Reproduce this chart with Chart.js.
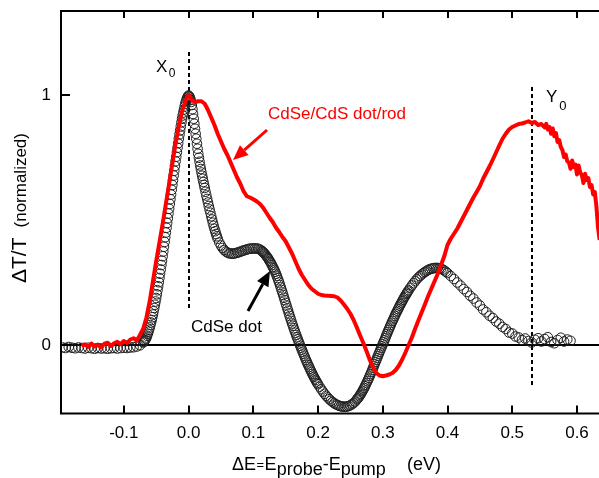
<!DOCTYPE html>
<html><head><meta charset="utf-8">
<script src="https://cdn.jsdelivr.net/npm/chart.js@4/dist/chart.umd.min.js"></script>
<style>html,body{margin:0;padding:0;background:#fff}#wrap{width:599px;height:478px}</style>
</head><body><div id="wrap"><canvas id="c" width="599" height="478"></canvas></div>
<script>
// ---- data (energy offset in eV, normalized ΔT/T) ----
const xTickValues = [-0.1, 0.0, 0.1, 0.2, 0.3, 0.4, 0.5, 0.6];
const yTickValues = [0, 1];
const seriesNames = ['CdSe/CdS dot/rod', 'CdSe dot'];

// CdSe dot (open circles): [ΔE, ΔT/T]
const cdseDot = [
[-0.195,-0.010],[-0.19,-0.012],[-0.185,-0.008],[-0.18,-0.011],[-0.175,-0.013],[-0.17,-0.010],[-0.165,-0.012],
[-0.16,-0.014],[-0.155,-0.011],[-0.15,-0.013],[-0.145,-0.015],[-0.14,-0.012],[-0.135,-0.014],[-0.13,-0.013],
[-0.125,-0.015],[-0.12,-0.013],[-0.115,-0.012],[-0.11,-0.014],[-0.105,-0.012],[-0.1,-0.011],[-0.095,-0.012],
[-0.09,-0.010],[-0.085,-0.009],[-0.08,-0.006],[-0.075,-0.001],[-0.07,0.010],
[-0.069,0.013],[-0.068,0.016],[-0.067,0.020],[-0.066,0.025],[-0.065,0.030],[-0.064,0.037],[-0.063,0.045],
[-0.062,0.053],[-0.061,0.061],[-0.060,0.070],[-0.059,0.080],[-0.058,0.090],[-0.057,0.100],[-0.056,0.111],
[-0.055,0.122],[-0.054,0.135],[-0.053,0.148],[-0.052,0.161],[-0.051,0.174],[-0.050,0.188],[-0.049,0.203],
[-0.048,0.219],[-0.047,0.235],[-0.046,0.251],[-0.045,0.268],[-0.044,0.285],[-0.043,0.302],[-0.042,0.320],
[-0.041,0.337],[-0.040,0.355],[-0.039,0.374],[-0.038,0.393],[-0.037,0.412],[-0.036,0.431],[-0.035,0.450],
[-0.034,0.469],[-0.033,0.488],[-0.032,0.507],[-0.031,0.526],[-0.030,0.545],[-0.029,0.564],[-0.028,0.583],
[-0.027,0.602],[-0.026,0.621],[-0.025,0.640],[-0.024,0.659],[-0.023,0.678],[-0.022,0.697],[-0.021,0.716],
[-0.020,0.735],[-0.019,0.753],[-0.018,0.771],[-0.017,0.789],[-0.016,0.807],[-0.015,0.825],[-0.014,0.842],
[-0.013,0.858],[-0.012,0.874],[-0.011,0.890],[-0.010,0.905],[-0.009,0.918],[-0.008,0.930],[-0.007,0.942],
[-0.006,0.954],[-0.005,0.965],[-0.004,0.974],[-0.003,0.982],[-0.002,0.989],[-0.001,0.994],[0.000,0.998],
[0.001,0.995],[0.002,0.990],[0.003,0.982],[0.004,0.972],[0.005,0.960],[0.006,0.943],[0.007,0.924],
[0.008,0.905],[0.009,0.885],[0.010,0.865],[0.011,0.845],[0.012,0.825],[0.013,0.805],[0.014,0.785],
[0.015,0.765],[0.016,0.749],[0.017,0.733],[0.018,0.718],[0.019,0.704],[0.020,0.690],[0.021,0.677],
[0.022,0.665],[0.023,0.652],[0.024,0.640],[0.025,0.628],
[0.02625,0.613],[0.0275,0.598],[0.02875,0.584],[0.030,0.570],[0.03125,0.556],[0.0325,0.542],[0.03375,0.529],
[0.035,0.515],[0.03625,0.502],[0.0375,0.489],[0.03875,0.477],[0.040,0.465],[0.04125,0.455],[0.0425,0.444],
[0.04375,0.435],[0.045,0.425],[0.0475,0.410],[0.050,0.398],[0.0525,0.388],[0.055,0.380],[0.0575,0.374],[0.060,0.370],
[0.0625,0.367],[0.065,0.366],[0.0675,0.365],[0.070,0.366],[0.0725,0.367],[0.075,0.369],[0.0775,0.371],
[0.080,0.373],[0.0825,0.376],[0.085,0.378],[0.0875,0.380],[0.090,0.382],[0.0925,0.384],[0.095,0.385],
[0.0975,0.386],[0.100,0.386],[0.1025,0.386],[0.105,0.386],[0.1075,0.385],[0.110,0.382],[0.1125,0.378],
[0.11375,0.375],[0.115,0.372],[0.11625,0.369],[0.1175,0.365],[0.11875,0.361],[0.120,0.357],[0.12125,0.353],
[0.1225,0.348],[0.12375,0.343],[0.125,0.337],[0.12625,0.332],[0.1275,0.326],[0.12875,0.320],[0.130,0.313],
[0.13125,0.307],[0.1325,0.300],[0.13375,0.293],[0.135,0.285],[0.13625,0.277],[0.1375,0.268],[0.13875,0.259],
[0.140,0.250],[0.14125,0.240],[0.1425,0.230],[0.14375,0.220],[0.145,0.210],[0.14625,0.200],[0.1475,0.189],
[0.14875,0.179],[0.150,0.168],[0.15125,0.158],[0.1525,0.147],[0.15375,0.137],[0.155,0.126],[0.15625,0.116],
[0.1575,0.106],[0.15875,0.096],[0.160,0.086],[0.16125,0.077],[0.1625,0.067],[0.16375,0.058],[0.165,0.049],
[0.16625,0.040],[0.1675,0.031],[0.16875,0.023],[0.170,0.014],[0.17125,0.006],[0.1725,-0.003],[0.17375,-0.011],
[0.175,-0.019],[0.17625,-0.027],[0.1775,-0.035],[0.17875,-0.043],[0.180,-0.051],[0.18125,-0.059],[0.1825,-0.066],
[0.18375,-0.074],[0.185,-0.081],[0.18625,-0.088],[0.1875,-0.095],[0.18875,-0.102],[0.190,-0.109],[0.19125,-0.116],
[0.1925,-0.122],[0.19375,-0.128],[0.195,-0.134],[0.19625,-0.140],[0.1975,-0.146],[0.19875,-0.152],[0.200,-0.157],
[0.2025,-0.167],[0.205,-0.177],[0.2075,-0.186],[0.210,-0.195],[0.2125,-0.203],[0.215,-0.210],[0.2175,-0.217],
[0.220,-0.223],[0.2225,-0.228],[0.225,-0.233],[0.2275,-0.237],[0.230,-0.240],[0.2325,-0.243],[0.235,-0.245],
[0.2375,-0.246],[0.240,-0.247],[0.2425,-0.247],[0.245,-0.246],[0.2475,-0.244],[0.250,-0.241],[0.2525,-0.237],
[0.255,-0.232],[0.2575,-0.226],[0.260,-0.218],[0.26125,-0.214],[0.2625,-0.210],[0.26375,-0.205],[0.265,-0.200],
[0.26625,-0.195],[0.2675,-0.190],[0.26875,-0.184],[0.270,-0.178],[0.27125,-0.172],[0.2725,-0.165],[0.27375,-0.159],
[0.275,-0.152],[0.27625,-0.145],[0.2775,-0.138],[0.27875,-0.131],[0.280,-0.123],[0.28125,-0.116],[0.2825,-0.108],
[0.28375,-0.100],[0.285,-0.092],[0.28625,-0.084],[0.2875,-0.076],[0.28875,-0.068],[0.290,-0.060],[0.29125,-0.052],
[0.2925,-0.044],[0.29375,-0.036],[0.295,-0.028],[0.29625,-0.020],[0.2975,-0.012],[0.29875,-0.005],[0.300,0.003],
[0.30125,0.011],[0.3025,0.019],[0.30375,0.027],[0.305,0.035],[0.30625,0.043],[0.3075,0.051],[0.30875,0.059],
[0.310,0.066],[0.31125,0.074],[0.3125,0.081],[0.31375,0.089],[0.315,0.096],[0.31625,0.103],[0.3175,0.110],
[0.31875,0.117],[0.320,0.124],[0.32125,0.131],[0.3225,0.137],[0.32375,0.144],[0.325,0.150],[0.32625,0.157],
[0.3275,0.163],[0.32875,0.169],[0.330,0.175],[0.33125,0.181],[0.3325,0.187],[0.33375,0.193],[0.335,0.198],
[0.33625,0.204],[0.3375,0.209],[0.33875,0.214],[0.340,0.219],
[0.3425,0.229],[0.345,0.238],[0.3475,0.247],[0.350,0.255],[0.3525,0.263],[0.355,0.270],[0.3575,0.276],
[0.360,0.282],[0.3625,0.287],[0.365,0.292],[0.3675,0.296],[0.370,0.300],[0.3725,0.303],[0.375,0.305],
[0.3775,0.307],[0.380,0.308],[0.3825,0.308],[0.385,0.308],[0.3875,0.307],[0.390,0.305],[0.3925,0.302],
[0.395,0.298],[0.3975,0.293],[0.400,0.288],
[0.405,0.276],[0.410,0.264],[0.415,0.250],[0.420,0.238],[0.425,0.224],[0.430,0.212],[0.435,0.197],
[0.440,0.186],[0.445,0.170],[0.450,0.158],[0.455,0.142],[0.460,0.131],[0.465,0.117],[0.470,0.108],
[0.475,0.094],[0.480,0.085],[0.485,0.072],[0.490,0.064],[0.495,0.050],[0.500,0.046],[0.505,0.034],
[0.510,0.030],[0.515,0.020],[0.520,0.026],[0.525,0.016],[0.530,0.010],[0.535,0.021],[0.540,0.027],
[0.545,0.014],[0.550,0.024],[0.555,0.031],[0.560,0.012],[0.565,0.007],[0.570,0.020],[0.575,0.029],
[0.580,0.014],[0.585,0.022],[0.590,0.017]
];

// CdSe/CdS dot/rod (red line): [ΔE, ΔT/T]
const dotRod = [
[-0.165,-0.005],[-0.16,0.003],[-0.155,-0.008],[-0.15,0.006],[-0.145,-0.006],[-0.14,0.001],[-0.135,-0.010],
[-0.13,0.005],[-0.125,0.009],[-0.12,-0.004],[-0.115,0.007],[-0.11,0.013],[-0.105,0.003],[-0.1,0.016],
[-0.095,0.008],[-0.09,0.022],[-0.085,0.027],[-0.08,0.018],[-0.075,0.040],[-0.07,0.065],[-0.065,0.110],
[-0.06,0.175],[-0.055,0.255],[-0.05,0.335],[-0.045,0.410],[-0.04,0.485],[-0.035,0.565],[-0.03,0.645],
[-0.025,0.725],[-0.02,0.805],[-0.015,0.875],[-0.01,0.935],[-0.005,0.975],[0.0,1.000],[0.005,0.980],
[0.01,0.972],[0.015,0.975],[0.02,0.975],[0.025,0.965],[0.03,0.940],[0.035,0.910],[0.04,0.880],
[0.045,0.845],[0.05,0.815],[0.055,0.785],[0.06,0.760],[0.065,0.730],[0.07,0.700],[0.075,0.670],
[0.08,0.645],[0.085,0.615],[0.09,0.595],[0.095,0.590],[0.1,0.583],[0.105,0.575],[0.11,0.565],
[0.115,0.550],[0.12,0.530],[0.125,0.510],[0.13,0.492],[0.135,0.470],[0.14,0.452],[0.145,0.432],
[0.15,0.415],[0.155,0.390],[0.16,0.365],[0.165,0.335],[0.17,0.305],[0.175,0.280],[0.18,0.260],
[0.185,0.240],[0.19,0.225],[0.195,0.215],[0.2,0.205],[0.205,0.200],[0.21,0.198],[0.215,0.197],
[0.22,0.196],[0.225,0.195],[0.23,0.190],[0.235,0.178],[0.24,0.162],[0.245,0.145],[0.25,0.125],
[0.255,0.100],[0.26,0.070],[0.265,0.038],[0.27,0.008],[0.275,-0.025],[0.28,-0.060],[0.285,-0.090],
[0.29,-0.112],[0.295,-0.122],[0.3,-0.125],[0.305,-0.122],[0.31,-0.118],[0.315,-0.112],[0.32,-0.100],
[0.325,-0.082],[0.33,-0.058],[0.335,-0.030],[0.34,0.000],[0.345,0.030],[0.35,0.065],[0.355,0.098],
[0.36,0.130],[0.365,0.162],[0.37,0.195],[0.375,0.225],[0.38,0.255],[0.385,0.285],[0.39,0.320],
[0.395,0.355],[0.4,0.400],[0.405,0.425],[0.41,0.445],[0.415,0.465],[0.42,0.490],[0.425,0.515],
[0.43,0.540],[0.435,0.565],[0.44,0.590],[0.445,0.612],[0.45,0.635],[0.455,0.665],[0.46,0.690],
[0.465,0.715],[0.47,0.742],[0.475,0.770],[0.48,0.798],[0.485,0.825],[0.49,0.845],[0.495,0.862],
[0.5,0.872],[0.505,0.878],[0.51,0.884],[0.515,0.886],[0.52,0.890],[0.525,0.895],[0.53,0.888],
[0.535,0.892],[0.54,0.880],[0.545,0.884],[0.55,0.870],[0.5525,0.885],[0.555,0.862],[0.5575,0.872],
[0.56,0.845],[0.5625,0.866],[0.565,0.835],[0.5675,0.848],[0.57,0.812],[0.5725,0.820],[0.575,0.792],
[0.5775,0.780],[0.58,0.752],[0.5825,0.762],[0.585,0.735],[0.5875,0.730],[0.59,0.705],[0.5925,0.738],
[0.595,0.712],[0.5975,0.722],[0.6,0.682],[0.6025,0.718],[0.605,0.690],[0.6075,0.680],[0.61,0.648],
[0.6125,0.685],[0.615,0.660],[0.6175,0.668],[0.62,0.632],[0.6225,0.640],[0.625,0.602],[0.6275,0.612],
[0.63,0.555],[0.6325,0.470],[0.635,0.420]
];

const FONT = '"Liberation Sans", Arial, Helvetica, sans-serif';

// draw text pieces one after another; returns the x after the last piece
function drawRun(ctx, x, pieces) {
  for (const p of pieces) {
    ctx.font = p.font;
    ctx.fillText(p.t, x + (p.dx || 0), p.y);
    x += ctx.measureText(p.t).width + (p.gap || 0);
  }
  return x;
}
function arrow(ctx, x1, y1, x2, y2, color) {
  const ang = Math.atan2(y2 - y1, x2 - x1);
  const L = 15, W = 6.5;
  const bx = x2 - L * Math.cos(ang), by = y2 - L * Math.sin(ang);
  ctx.strokeStyle = color; ctx.fillStyle = color; ctx.lineWidth = 3; ctx.setLineDash([]);
  ctx.beginPath(); ctx.moveTo(x1, y1); ctx.lineTo(bx, by); ctx.stroke();
  ctx.beginPath();
  ctx.moveTo(x2, y2);
  ctx.lineTo(bx + W * Math.sin(ang), by - W * Math.cos(ang));
  ctx.lineTo(bx - W * Math.sin(ang), by + W * Math.cos(ang));
  ctx.closePath(); ctx.fill();
}

const decor = {
  id: 'decor',
  beforeDatasetsDraw(chart) {
    const { ctx, chartArea: a, scales: { x, y } } = chart;
    ctx.save();
    ctx.strokeStyle = '#000'; ctx.lineWidth = 2;
    const y0 = y.getPixelForValue(0);
    ctx.beginPath(); ctx.moveTo(a.left, y0); ctx.lineTo(a.right, y0); ctx.stroke();
    ctx.setLineDash([4, 3]);
    const marks = [{ v: 0, top: 1.172, bot: 0.14 }, { v: 0.531, top: 1.032, bot: -0.163 }];
    for (const m of marks) {
      const px = Math.round(x.getPixelForValue(m.v));
      ctx.beginPath(); ctx.moveTo(px, y.getPixelForValue(m.top)); ctx.lineTo(px, y.getPixelForValue(m.bot)); ctx.stroke();
    }
    ctx.restore();
  },
  afterDraw(chart) {
    const { ctx, chartArea: a, scales: { x, y } } = chart;
    ctx.save();
    ctx.strokeStyle = '#000'; ctx.lineWidth = 2; ctx.setLineDash([]);
    // frame: top, left, bottom (open on the right)
    ctx.beginPath();
    ctx.moveTo(a.right, a.top); ctx.lineTo(a.left, a.top); ctx.lineTo(a.left, a.bottom); ctx.lineTo(a.right, a.bottom);
    ctx.stroke();
    // inward ticks
    ctx.beginPath();
    for (const v of xTickValues) {
      const px = Math.round(x.getPixelForValue(v));
      ctx.moveTo(px, a.bottom); ctx.lineTo(px, a.bottom - 8);
      ctx.moveTo(px, a.top); ctx.lineTo(px, a.top + 7);
    }
    for (const v of yTickValues) {
      const py = y.getPixelForValue(v);
      ctx.moveTo(a.left, py); ctx.lineTo(a.left + 9, py);
    }
    ctx.stroke();

    ctx.textBaseline = 'alphabetic'; ctx.textAlign = 'left';
    ctx.fillStyle = '#000';
    // X0 and Y0 labels
    drawRun(ctx, 156, [{ t: 'X', font: '17px ' + FONT, y: 72, gap: 1.5 }, { t: '0', font: '12px ' + FONT, y: 77 }]);
    drawRun(ctx, 546, [{ t: 'Y', font: '17px ' + FONT, y: 102, gap: 2 }, { t: '0', font: '13px ' + FONT, y: 110 }]);
    // series labels
    ctx.fillStyle = '#ff0000';
    ctx.font = '17px ' + FONT;
    ctx.fillText(seriesNames[0], 268, 119);
    ctx.fillStyle = '#000';
    ctx.fillText(seriesNames[1], 191, 332);
    arrow(ctx, 267, 130, 233, 160, '#ff0000');
    arrow(ctx, 248, 311, 270, 271, '#000');

    // x axis title
    ctx.fillStyle = '#000';
    const xb = 470, sb = 475;
    drawRun(ctx, 232, [
      { t: 'ΔE', font: '18px ' + FONT, y: xb, gap: 0.5 },
      { t: '=', font: '13px ' + FONT, y: xb - 1, gap: 0.5 },
      { t: 'E', font: '18px ' + FONT, y: xb },
      { t: 'probe', font: '18px ' + FONT, y: sb },
      { t: '-', font: '18px ' + FONT, y: xb },
      { t: 'E', font: '18px ' + FONT, y: xb },
      { t: 'pump', font: '18px ' + FONT, y: sb }
    ]);
    ctx.font = '18px ' + FONT;
    ctx.fillText('(eV)', 407, xb);

    // y axis title (rotated)
    ctx.save();
    ctx.translate(26, 283);
    ctx.rotate(-Math.PI / 2);
    drawRun(ctx, 0, [
      { t: 'ΔT/T', font: '21px ' + FONT, y: 0, gap: 10 },
      { t: '(normalized)', font: '17px ' + FONT, y: 0 }
    ]);
    ctx.restore();
    ctx.restore();
  }
};

const toPts = arr => arr.map(p => ({ x: p[0], y: p[1] }));
const noPad = s => { s.paddingLeft = 0; s.paddingRight = 0; s.paddingTop = 0; s.paddingBottom = 0; };

new Chart(document.getElementById('c'), {
  type: 'scatter',
  data: {
    datasets: [
      { label: seriesNames[0], data: toPts(dotRod), showLine: true, borderColor: '#ff0000', borderWidth: 4,
        pointRadius: 0, tension: 0, fill: false, order: 0, borderJoinStyle: 'round' },
      { label: seriesNames[1], data: toPts(cdseDot), showLine: false, pointStyle: 'circle', pointRadius: 4.8,
        borderColor: '#1e1e1e', borderWidth: 1, backgroundColor: 'rgba(255,255,255,0)', order: 1 }
    ]
  },
  options: {
    responsive: false, animation: false, devicePixelRatio: 1,
    layout: { autoPadding: false, padding: { top: 11, right: 0, left: 0, bottom: 0 } },
    plugins: { legend: { display: false }, tooltip: { enabled: false } },
    scales: {
      x: {
        type: 'linear', min: -0.197, max: 0.634,
        afterBuildTicks: s => { s.ticks = xTickValues.map(v => ({ value: v })); },
        afterFit: s => { s.height = 64.5; noPad(s); },
        grid: { display: false, drawTicks: false }, border: { display: false },
        ticks: { color: '#000', padding: 10, maxRotation: 0, autoSkip: false,
                 font: { family: FONT, size: 17 }, callback: v => Number(v).toFixed(1) }
      },
      y: {
        type: 'linear', min: -0.274, max: 1.336,
        afterBuildTicks: s => { s.ticks = yTickValues.map(v => ({ value: v })); },
        afterFit: s => { s.width = 61; noPad(s); },
        grid: { display: false, drawTicks: false }, border: { display: false },
        ticks: { color: '#000', padding: 10, font: { family: FONT, size: 17 }, callback: v => String(v) }
      }
    }
  },
  plugins: [decor]
});
</script>
</body></html>
